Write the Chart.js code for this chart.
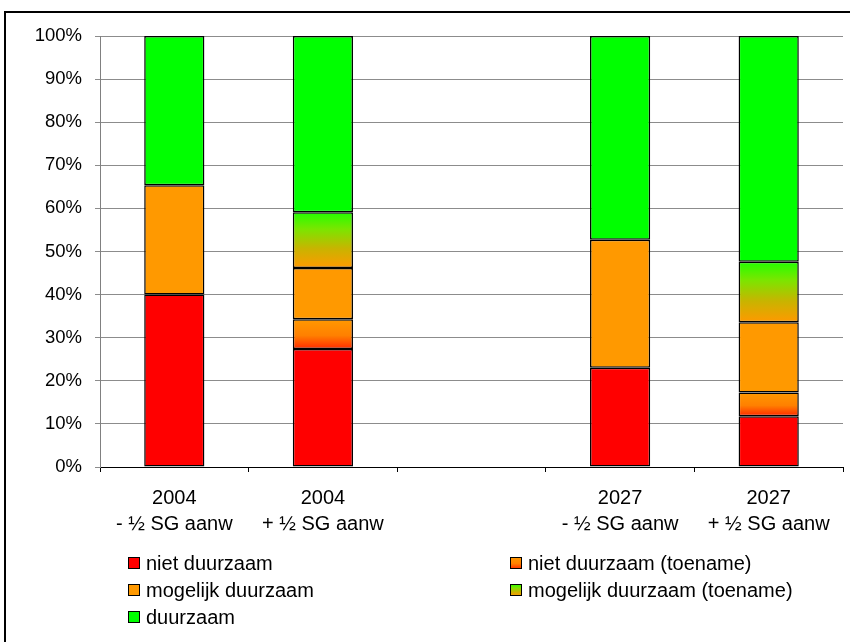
<!DOCTYPE html>
<html>
<head>
<meta charset="utf-8">
<script src="https://cdn.jsdelivr.net/npm/chart.js@4/dist/chart.umd.min.js"></script>
<style>
  html, body { margin: 0; padding: 0; background: #fff; }
  #wrap { width: 850px; height: 642px; }
</style>
</head>
<body>
<div id="wrap"><canvas id="c" width="850" height="642"></canvas></div>
<script>
// Categories (third slot is an empty spacer between the years)
const categories = [
  ['2004', '- \u00BD SG aanw'],
  ['2004', '+ \u00BD SG aanw'],
  '',
  ['2027', '- \u00BD SG aanw'],
  ['2027', '+ \u00BD SG aanw']
];

// Shares per category, in percent (stacked bottom to top)
const nietDuurzaam            = [40.0, 27.4, null, 23.0, 11.8];
const nietDuurzaamToename     = [null, 6.9,  null, null, 5.5];
const mogelijkDuurzaam        = [25.4, 11.9, null, 29.7, 16.3];
const mogelijkDuurzaamToename = [null, 12.9, null, null, 14.0];
const duurzaam                = [34.6, 40.9, null, 47.3, 52.4];

const seriesNames = [
  'niet duurzaam',
  'niet duurzaam (toename)',
  'mogelijk duurzaam',
  'mogelijk duurzaam (toename)',
  'duurzaam'
];

const yTicks = [0, 10, 20, 30, 40, 50, 60, 70, 80, 90, 100];

const RED = '#FF0000';
const ORANGE = '#FF9900';
const GREEN = '#00FF00';
const FONT = '"Liberation Sans", Arial, sans-serif';

// Gradient colour stops (0 = bottom, 1 = top of the segment)
const gradientStops = {
  1: [[0, '#FF2A00'], [0.45, '#FF8000'], [1, '#FF9900']],
  3: [[0, '#FF9900'], [0.35, '#C8B400'], [0.7, '#7AE600'], [1, '#22FF00']]
};

function makeGradient(g, yBottom, yTop, stops) {
  const grad = g.createLinearGradient(0, yBottom, 0, yTop);
  stops.forEach(([o, c]) => grad.addColorStop(o, c));
  return grad;
}

const allSeries = [nietDuurzaam, nietDuurzaamToename, mogelijkDuurzaam, mogelijkDuurzaamToename, duurzaam];

function gradientFill(dsIndex, fallback) {
  return (ctx) => {
    const chart = ctx.chart;
    const y = chart.scales && chart.scales.y;
    if (ctx.type !== 'data' || !y || !chart.chartArea) return fallback;
    let start = 0;
    for (let k = 0; k < dsIndex; k++) start += allSeries[k][ctx.dataIndex] || 0;
    const end = start + (allSeries[dsIndex][ctx.dataIndex] || 0);
    return makeGradient(chart.ctx, y.getPixelForValue(start), y.getPixelForValue(end), gradientStops[dsIndex]);
  };
}

const barCommon = {
  borderColor: '#000',
  borderWidth: 1.5,
  borderSkipped: false,
  categoryPercentage: 1.0,
  barPercentage: 0.405
};

// Outer frame of the figure
const framePlugin = {
  id: 'frame',
  beforeDraw(chart) {
    const g = chart.ctx;
    g.save();
    g.fillStyle = '#fff';
    g.fillRect(0, 0, chart.width, chart.height);
    g.strokeStyle = '#000';
    g.lineWidth = 2;
    g.beginPath();
    g.moveTo(5, chart.height);
    g.lineTo(5, 12);
    g.lineTo(chart.width, 12);
    g.stroke();
    g.restore();
  }
};

// Two-column legend under the axis
const gridLegend = {
  id: 'gridLegend',
  afterDraw(chart) {
    const g = chart.ctx;
    const colX = [128, 510];
    const rowY = [563, 590, 617];
    const box = 12;
    g.save();
    g.font = '20px ' + FONT;
    g.textBaseline = 'middle';
    g.fillStyle = '#000';
    chart.data.datasets.forEach((ds, i) => {
      const x = colX[i % 2];
      const yc = rowY[Math.floor(i / 2)];
      const top = yc - box / 2;
      let fill = ds.legendColor;
      if (gradientStops[i]) fill = makeGradient(g, top + box, top, gradientStops[i]);
      g.fillStyle = fill;
      g.fillRect(x, top, box, box);
      g.strokeStyle = '#000';
      g.lineWidth = 1;
      g.strokeRect(x + 0.5, top + 0.5, box - 1, box - 1);
      g.fillStyle = '#000';
      g.fillText(ds.label, x + box + 6, yc + 1);
    });
    g.restore();
  }
};

new Chart(document.getElementById('c'), {
  type: 'bar',
  data: {
    labels: categories,
    datasets: [
      { ...barCommon, label: seriesNames[0], data: nietDuurzaam, backgroundColor: RED, legendColor: RED },
      { ...barCommon, label: seriesNames[1], data: nietDuurzaamToename, backgroundColor: gradientFill(1, ORANGE), legendColor: ORANGE },
      { ...barCommon, label: seriesNames[2], data: mogelijkDuurzaam, backgroundColor: ORANGE, legendColor: ORANGE },
      { ...barCommon, label: seriesNames[3], data: mogelijkDuurzaamToename, backgroundColor: gradientFill(3, GREEN), legendColor: GREEN },
      { ...barCommon, label: seriesNames[4], data: duurzaam, backgroundColor: GREEN, legendColor: GREEN }
    ]
  },
  options: {
    responsive: false,
    animation: false,
    devicePixelRatio: 1,
    layout: { padding: { left: 0, top: 36, right: 7, bottom: 0 } },
    plugins: {
      legend: { display: false },
      tooltip: { enabled: false },
      title: { display: false }
    },
    scales: {
      x: {
        stacked: true,
        grid: { display: true, drawOnChartArea: false, drawTicks: true, tickLength: 5, color: '#000', offset: true },
        border: { display: true, color: '#000', width: 1 },
        ticks: {
          color: '#000',
          font: { family: FONT, size: 20, lineHeight: 1.28 },
          padding: 14,
          maxRotation: 0,
          autoSkip: false
        },
        afterFit(scale) { scale.height = 175; }
      },
      y: {
        stacked: true,
        min: 0,
        max: 100,
        afterBuildTicks(scale) { scale.ticks = yTicks.map(v => ({ value: v })); },
        grid: { color: '#8c8c8c', lineWidth: 1, drawTicks: true, tickLength: 5 },
        border: { display: true, color: '#808080', width: 1 },
        ticks: {
          color: '#000',
          font: { family: FONT, size: 18.5 },
          padding: 13,
          callback: v => v + '%'
        },
        afterFit(scale) { scale.width = 100; }
      }
    }
  },
  plugins: [framePlugin, gridLegend]
});
</script>
</body>
</html>
